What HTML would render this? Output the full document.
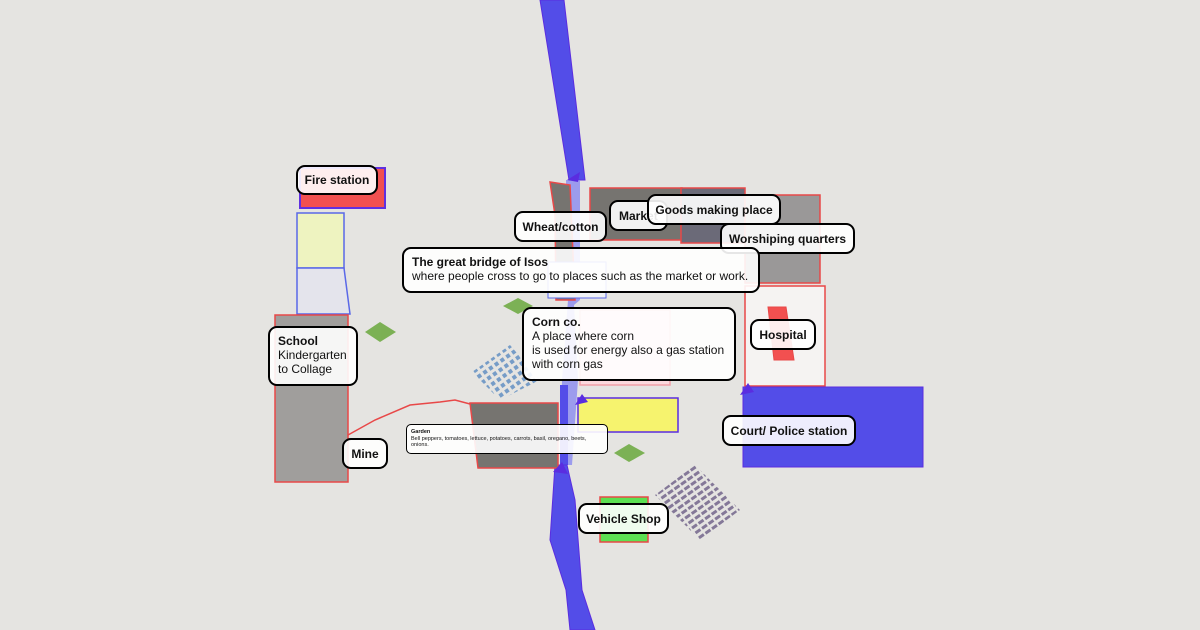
<!DOCTYPE html>
<html><head><meta charset="utf-8"><style>
body{margin:0;width:1200px;height:630px;background:#e5e4e1;position:relative;overflow:hidden;font-family:"Liberation Sans",sans-serif}
svg{position:absolute;left:0;top:0}
.l{position:absolute;box-sizing:border-box;border:2px solid #000;border-radius:9px;background:rgba(255,255,255,0.9);font-size:12px;font-weight:bold;color:#111;display:flex;align-items:center;justify-content:center;white-space:nowrap}
.m{display:block;padding:6px 8px;line-height:14px;font-weight:normal;justify-content:flex-start}
.m b{font-weight:bold}
</style></head><body>
<svg width="1200" height="630">
<defs>
<pattern id="pb" width="7" height="7" patternUnits="userSpaceOnUse" patternTransform="rotate(-35)"><rect width="4" height="4" fill="#5a8ac0"/></pattern>
<pattern id="pc" width="8" height="6" patternUnits="userSpaceOnUse" patternTransform="rotate(-35)"><rect width="6" height="3" fill="#5a4a78"/></pattern>
</defs>
<polygon points="540,0 564,0 585,180 569,180" fill="#534de8" stroke="#5a2de0" stroke-width="1"/>
<polygon points="566,180 580,180 580,300 574,305 578,380 572,465 560,465 562,380 568,300" fill="#8a8af0" opacity="0.8"/>
<polygon points="560,385 568,385 568,465 560,465" fill="#534de8"/>
<polygon points="555,465 567,465 575,500 582,590 595,630 570,630 566,590 550,540" fill="#534de8" stroke="#5a2de0"/>
<rect x="300" y="168" width="85" height="40" fill="#f25050" stroke="#6030e0" stroke-width="2"/>
<rect x="297" y="213" width="47" height="55" fill="#eef3c0" stroke="#5a68e8" stroke-width="1.5"/>
<polygon points="297,268 344,268 350,314 297,314" fill="#e4e4ec" stroke="#5a68e8" stroke-width="1.5"/>
<rect x="275" y="315" width="73" height="167" fill="#a09e9c" stroke="#e84848" stroke-width="1.5"/>
<polyline points="348,435 375,420 410,405 440,402 455,400 470,404" fill="none" stroke="#e84848" stroke-width="1.5"/>
<polygon points="470,403 558,403 558,468 478,468" fill="#767470" stroke="#e84848" stroke-width="1.5"/>
<polygon points="550,182 570,185 575,300 556,300 555,215" fill="#767470" stroke="#e84848" stroke-width="1.5"/>
<rect x="590" y="188" width="92" height="52" fill="#767470" stroke="#e84848" stroke-width="1.5"/>
<rect x="681" y="188" width="64" height="55" fill="#6b6a78" stroke="#e84848" stroke-width="1.5"/>
<rect x="745" y="195" width="75" height="88" fill="#9a9898" stroke="#e84848" stroke-width="1.5"/>
<rect x="745" y="286" width="80" height="100" fill="#f5f3f2" stroke="#e84848" stroke-width="1.5"/>
<polygon points="768,307 786,307 794,360 774,360" fill="#f25050" stroke="#e84848"/>
<rect x="548" y="262" width="58" height="36" fill="#eef0f4" stroke="#5a68e8" stroke-width="1"/>
<rect x="580" y="310" width="90" height="75" fill="#fbd8dc" stroke="#f0a0a8" stroke-width="1.5"/>
<rect x="578" y="398" width="100" height="34" fill="#f6f36e" stroke="#5a2de0" stroke-width="1.5"/>
<rect x="743" y="387" width="180" height="80" fill="#534de8" stroke="#5a2de0"/>
<rect x="600" y="497" width="48" height="45" fill="#5ce052" stroke="#e84848" stroke-width="1.5"/>
<g fill="#5a2de0"><polygon points="567,180 580,172 578,182"/><polygon points="553,472 562,462 568,474"/><polygon points="575,405 582,394 588,402"/><polygon points="740,395 748,383 754,392"/></g>
<g fill="#6aa83c" opacity="0.85"><polygon points="365,332 380,322 396,332 380,342"/><polygon points="503,306 518,298 533,306 518,314"/><polygon points="614,453 629,444 645,453 629,462"/></g>
<polygon points="472,372 510,345 540,380 500,400" fill="url(#pb)" opacity="0.8"/>
<polygon points="655,495 695,465 740,510 700,540" fill="url(#pc)" opacity="0.7"/>
</svg>
<div class="l" style="left:296px;top:165px;width:82px;height:30px">Fire station</div>
<div class="l" style="left:514px;top:211px;width:93px;height:31px">Wheat/cotton</div>
<div class="l" style="left:609px;top:200px;width:59px;height:31px;justify-content:flex-start;padding-left:8px">Market</div>
<div class="l" style="left:647px;top:194px;width:134px;height:31px">Goods making place</div>
<div class="l" style="left:720px;top:223px;width:135px;height:31px">Worshiping quarters</div>
<div class="l m" style="left:402px;top:247px;width:358px;height:46px"><b>The great bridge of Isos</b><br>where people cross to go to places such as the market or work.</div>
<div class="l m" style="left:522px;top:307px;width:214px;height:74px"><b>Corn co.</b><br>A place where corn<br>is used for energy also a gas station<br>with corn gas</div>
<div class="l m" style="left:268px;top:326px;width:90px;height:60px"><b>School</b><br>Kindergarten<br>to Collage</div>
<div class="l" style="left:342px;top:438px;width:46px;height:31px">Mine</div>
<div class="l m" style="left:406px;top:424px;width:202px;height:30px;border-width:1px;border-radius:5px;font-size:5.5px;line-height:6.5px;padding:4px 4px;white-space:normal"><b>Garden</b><br>Bell peppers, tomatoes, lettuce, potatoes, carrots, basil, oregano, beets, onions.</div>
<div class="l" style="left:750px;top:319px;width:66px;height:31px">Hospital</div>
<div class="l" style="left:722px;top:415px;width:134px;height:31px">Court/ Police station</div>
<div class="l" style="left:578px;top:503px;width:91px;height:31px">Vehicle Shop</div>
</body></html>
